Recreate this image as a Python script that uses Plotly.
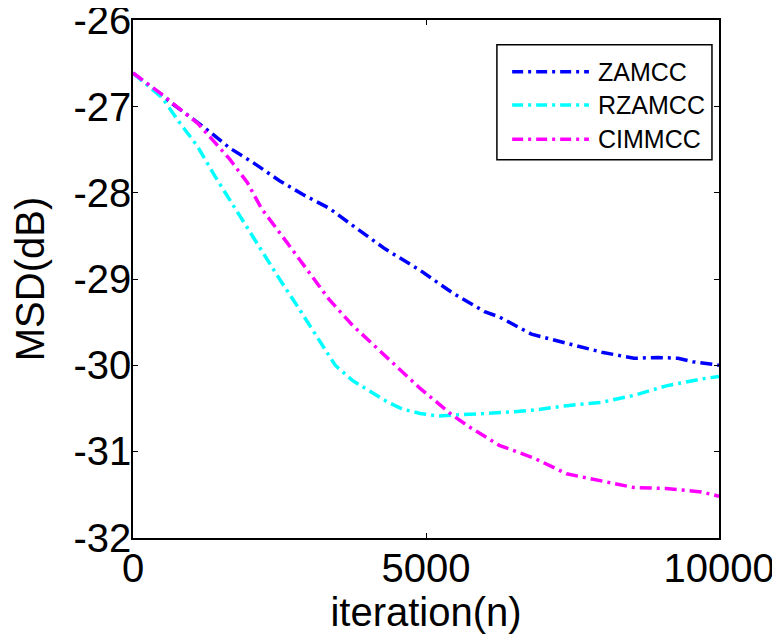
import plotly.graph_objects as go

# ---- data ----
series_names = ["ZAMCC", "RZAMCC", "CIMMCC"]
series_colors = ["#0000FF", "#00FFFF", "#FF00FF"]

zamcc_n = [0, 600, 1250, 1650, 2050, 2500, 2900, 3350, 3750, 4300, 4900, 5450,
           6000, 6250, 6800, 7400, 8000, 8550, 8950, 9300, 9550, 10000]
zamcc_v = [-26.61, -26.93, -27.26, -27.48, -27.65, -27.86, -28.02, -28.18, -28.38,
           -28.65, -28.90, -29.16, -29.38, -29.44, -29.64, -29.75, -29.85, -29.92,
           -29.91, -29.92, -29.96, -30.00]

rzamcc_n = [0, 500, 800, 1100, 1400, 1650, 1950, 2200, 2500, 2800, 3200, 3450, 3750,
            4050, 4350, 4600, 4900, 5200, 5600, 6000, 6500, 6850, 7400, 8000, 8550,
            9100, 9700, 10000]
rzamcc_v = [-26.61, -26.90, -27.19, -27.46, -27.81, -28.08, -28.42, -28.69, -29.00,
            -29.31, -29.73, -30.00, -30.18, -30.31, -30.43, -30.51, -30.56, -30.59,
            -30.57, -30.56, -30.54, -30.52, -30.47, -30.43, -30.35, -30.24, -30.16,
            -30.13]

cimmcc_n = [0, 500, 800, 1100, 1350, 1650, 1950, 2200, 2500, 2800, 3100, 3350, 3750,
            4300, 4900, 5450, 5750, 6250, 6850, 7400, 8000, 8550, 9100, 9700, 10000]
cimmcc_v = [-26.61, -26.86, -27.03, -27.19, -27.38, -27.61, -27.88, -28.19, -28.46,
            -28.73, -29.00, -29.24, -29.54, -29.89, -30.27, -30.58, -30.72, -30.93,
            -31.08, -31.26, -31.34, -31.42, -31.43, -31.47, -31.52]

x_ticks = [0, 5000, 10000]
y_ticks = [-32, -31, -30, -29, -28, -27, -26]

# ---- figure ----
DASH = "12px,5px,3px,5px"
FONT = "Liberation Sans, Arial, sans-serif"

fig = go.Figure()
all_n = [zamcc_n, rzamcc_n, cimmcc_n]
all_v = [zamcc_v, rzamcc_v, cimmcc_v]
for name, color, xs, ys in zip(series_names, series_colors, all_n, all_v):
    fig.add_trace(go.Scatter(x=xs, y=ys, mode="lines", name=name,
                             line=dict(color=color, width=3.5, dash=DASH),
                             showlegend=False))

# custom legend box (paper coords)
lx0, lx1, ly0, ly1 = 0.621, 0.988, 0.730, 0.952
fig.add_shape(type="rect", xref="paper", yref="paper", x0=lx0, x1=lx1, y0=ly0, y1=ly1,
              line=dict(color="black", width=1.5), fillcolor="white", layer="above")
entry_y = [0.900, 0.836, 0.770]
for name, color, yy in zip(series_names, series_colors, entry_y):
    fig.add_shape(type="line", xref="paper", yref="paper", x0=0.647, x1=0.778,
                  y0=yy, y1=yy, line=dict(color=color, width=3.5, dash="11px,5px,3px,5px"),
                  layer="above")
    fig.add_annotation(xref="paper", yref="paper", x=0.790, y=yy, text=name,
                       showarrow=False, xanchor="left", yanchor="middle",
                       font=dict(family=FONT, size=25, color="black"))

axis_common = dict(showline=True, linecolor="black", linewidth=1.5, mirror="ticks",
                   ticks="inside", ticklen=5, tickwidth=1.2, tickcolor="black",
                   showgrid=False, zeroline=False, ticklabeloverflow="allow",
                   tickfont=dict(family=FONT, size=40, color="black"))

fig.update_xaxes(range=[0, 10000], tickvals=x_ticks, ticktext=[str(t) for t in x_ticks],
                 ticklabelstandoff=-6,
                 title=dict(text="iteration(n)", font=dict(family=FONT, size=40, color="black"),
                            standoff=7),
                 **axis_common)
fig.update_yaxes(range=[-32.005, -25.995], tickvals=y_ticks, ticktext=[str(t) for t in y_ticks],
                 ticklabelstandoff=-8,
                 title=dict(text="MSD(dB)", font=dict(family=FONT, size=40, color="black"),
                            standoff=16),
                 **axis_common)

fig.update_layout(width=780, height=642, plot_bgcolor="white", paper_bgcolor="white",
                  margin=dict(l=125, r=69, t=12, b=112, autoexpand=False),
                  showlegend=False)

fig.write_html("out.html")
